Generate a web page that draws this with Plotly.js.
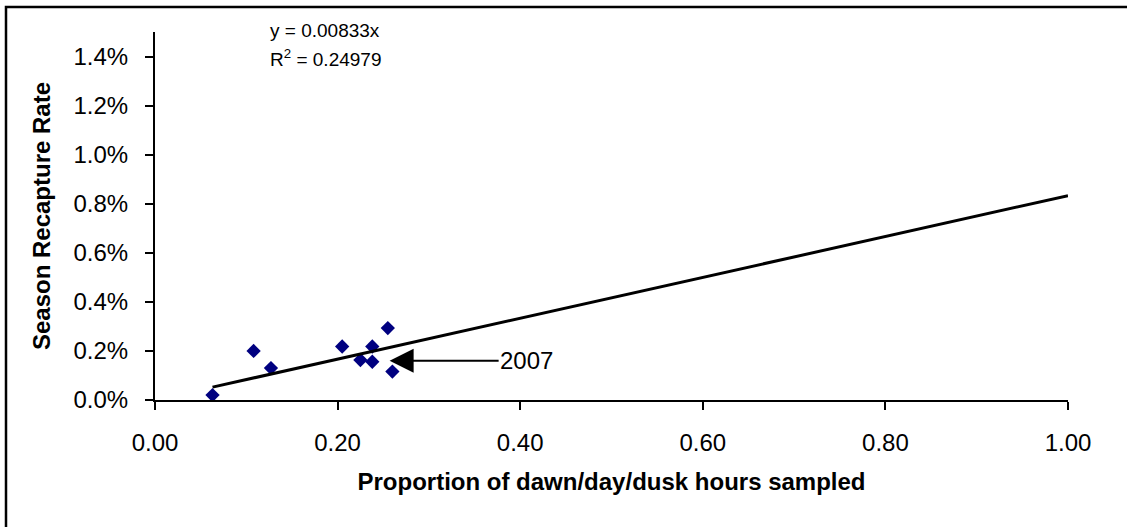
<!DOCTYPE html>
<html>
<head>
<meta charset="utf-8">
<script src="https://cdn.plot.ly/plotly-3.0.1.min.js"></script>
<style>
  html, body { margin: 0; padding: 0; background: #ffffff; }
  #chart { width: 1127px; height: 527px; }
</style>
</head>
<body>
<div id="chart"></div>
<script>
// ---- Data ----
var proportionSampled = [0.063, 0.108, 0.127, 0.205, 0.225, 0.238, 0.238, 0.255, 0.260];
var recaptureRate     = [0.0002, 0.0020, 0.0013, 0.00218, 0.00163, 0.00218, 0.00156, 0.00293, 0.00116];

// Trendline (through origin): y = 0.00833x, drawn from min x to 1.00
var trendSlope = 0.00833;
var trendR2 = 0.24979;
var trendX = [0.063, 1.0];

// Annotated year
var annoLabel = "2007";
var annoX = 0.257;
var annoY = 0.0016;

var xTickVals = [0, 0.2, 0.4, 0.6, 0.8, 1.0];
var yTickVals = [0, 0.002, 0.004, 0.006, 0.008, 0.010, 0.012, 0.014];

// ---- Layout geometry (pixels) ----
var W = 1127, H = 527;
var M = {l: 155, r: 59, t: 32, b: 127};
var plotW = W - M.l - M.r, plotH = H - M.t - M.b;
function px2paperX(p) { return (p - M.l) / plotW; }
function px2paperY(p) { return (H - M.b - p) / plotH; }

var FONT = "Arial, 'Liberation Sans', sans-serif";

var trendY = trendX.map(function (x) { return trendSlope * x; });

var traces = [
  {
    x: proportionSampled, y: recaptureRate,
    type: 'scatter', mode: 'markers',
    marker: {symbol: 'diamond', size: 11, color: '#000080'},
    showlegend: false, hoverinfo: 'x+y'
  },
  {
    x: trendX, y: trendY,
    type: 'scatter', mode: 'lines',
    line: {color: '#000000', width: 3},
    showlegend: false, hoverinfo: 'skip'
  }
];

var layout = {
  width: W, height: H,
  margin: M,
  paper_bgcolor: '#ffffff',
  plot_bgcolor: '#ffffff',
  font: {family: FONT, size: 24, color: '#000000'},
  showlegend: false,
  xaxis: {
    range: [0, 1.0],
    tickvals: xTickVals,
    tickformat: '.2f',
    showgrid: false, zeroline: false,
    showline: true, linecolor: '#000000', linewidth: 2,
    ticks: 'outside', ticklen: 8, tickwidth: 2, tickcolor: '#000000',
    ticklabelstandoff: 12,
    tickfont: {family: FONT, size: 24, color: '#000000'},
    automargin: false,
    title: {
      text: 'Proportion of dawn/day/dusk hours sampled',
      font: {family: FONT, size: 24, color: '#000000', weight: 'bold'},
      standoff: 18
    }
  },
  yaxis: {
    range: [0, 0.015],
    tickvals: yTickVals,
    tickformat: '.1%',
    showgrid: false, zeroline: false,
    showline: true, linecolor: '#000000', linewidth: 2,
    ticks: 'outside', ticklen: 8, tickwidth: 2, tickcolor: '#000000',
    ticklabelstandoff: 12,
    tickfont: {family: FONT, size: 24, color: '#000000'},
    automargin: false,
    title: {
      text: 'Season Recapture Rate',
      font: {family: FONT, size: 24, color: '#000000', weight: 'bold'},
      standoff: 16
    }
  },
  annotations: [
    {
      x: annoX, y: annoY, xref: 'x', yref: 'y',
      text: annoLabel, showarrow: true,
      ax: 137, ay: 0,
      arrowhead: 2, arrowsize: 2.4, arrowwidth: 2, arrowcolor: '#000000',
      font: {family: FONT, size: 24, color: '#000000'}
    },
    {
      x: px2paperX(268), y: px2paperY(31), xref: 'paper', yref: 'paper',
      xanchor: 'left', yanchor: 'middle', showarrow: false,
      text: 'y = ' + trendSlope.toFixed(5) + 'x',
      font: {family: FONT, size: 19, color: '#000000'}
    },
    {
      x: px2paperX(268), y: px2paperY(58), xref: 'paper', yref: 'paper',
      xanchor: 'left', yanchor: 'middle', showarrow: false,
      text: 'R<sup>2</sup> = ' + trendR2.toFixed(5),
      font: {family: FONT, size: 19, color: '#000000'}
    }
  ],
  shapes: [
    {
      type: 'rect', xref: 'paper', yref: 'paper',
      x0: px2paperX(6), x1: px2paperX(W + 20),
      y0: px2paperY(H + 20), y1: px2paperY(7),
      line: {color: '#000000', width: 2.5},
      fillcolor: 'rgba(0,0,0,0)',
      layer: 'above'
    }
  ]
};

Plotly.newPlot('chart', traces, layout, {displayModeBar: false, staticPlot: true});
</script>
</body>
</html>
